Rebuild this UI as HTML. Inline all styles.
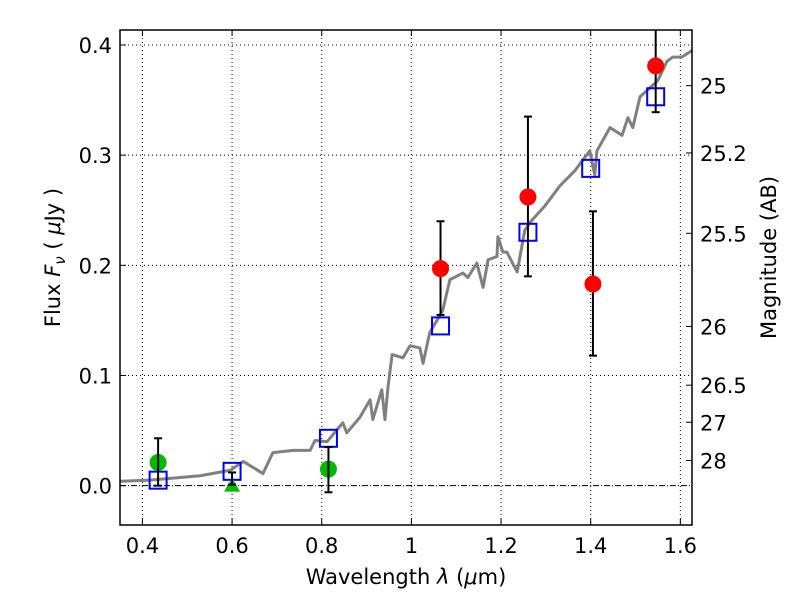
<!DOCTYPE html>
<html><head><meta charset="utf-8"><style>
body{margin:0;background:#fff}
svg text{font-family:"DejaVu Sans","Liberation Sans",sans-serif;fill:#000}
</style></head><body>
<svg id="chart" width="800" height="600"></svg>
<script>
const xTicks=[0.4,0.6,0.8,1.0,1.2,1.4,1.6];
const xTickLabels=["0.4","0.6","0.8","1","1.2","1.4","1.6"];
const yTicks=[0,0.1,0.2,0.3,0.4];
const yTickLabels=["0.0","0.1","0.2","0.3","0.4"];
const magTicks=[25,25.2,25.5,26,26.5,27,28];
const magTickLabels=["25","25.2","25.5","26","26.5","27","28"];
const specLam=[0.350,0.417,0.529,0.596,0.625,0.669,0.691,0.736,0.774,0.785,0.812,0.847,0.856,0.885,0.908,0.914,0.934,0.941,0.948,0.957,0.981,0.997,1.019,1.026,1.041,1.070,1.079,1.086,1.115,1.126,1.146,1.160,1.171,1.191,1.193,1.204,1.213,1.236,1.253,1.269,1.298,1.331,1.365,1.398,1.409,1.414,1.443,1.470,1.483,1.494,1.510,1.543,1.550,1.570,1.583,1.603,1.626];
const specFlux=[0.004,0.005,0.009,0.014,0.022,0.011,0.030,0.032,0.032,0.041,0.040,0.057,0.048,0.062,0.078,0.060,0.087,0.060,0.090,0.119,0.116,0.127,0.125,0.111,0.139,0.159,0.175,0.187,0.193,0.189,0.202,0.180,0.205,0.208,0.226,0.212,0.212,0.194,0.232,0.241,0.254,0.272,0.286,0.304,0.282,0.304,0.325,0.318,0.334,0.325,0.353,0.365,0.368,0.385,0.389,0.389,0.395];
const modelLam=[0.435,0.6,0.815,1.065,1.26,1.4,1.545];
const modelFlux=[0.005,0.013,0.043,0.145,0.230,0.288,0.353];
const greenLam=[0.435,0.815];
const greenFlux=[0.021,0.015];
const greenLo=[0.0,-0.006];
const greenHi=[0.043,0.035];
const limitLam=[0.6];
const limitFlux=[0.0];
const limitLo=[0.001];
const limitHi=[0.012];
const redLam=[1.065,1.26,1.405,1.545];
const redFlux=[0.197,0.262,0.183,0.381];
const redLo=[0.155,0.190,0.118,0.339];
const redHi=[0.240,0.335,0.249,0.430];

const L=120,R=692,T=30,B=525;
const xmin=0.35,xmax=1.626,ymin=-0.0357,ymax=0.4136;
const X=v=>L+(v-xmin)/(xmax-xmin)*(R-L);
const Y=v=>B-(v-ymin)/(ymax-ymin)*(B-T);
const svg=document.getElementById('chart');
const NS='http://www.w3.org/2000/svg';
function mk(tag,attrs,parent){const e=document.createElementNS(NS,tag);for(const k in attrs)e.setAttribute(k,attrs[k]);(parent||svg).appendChild(e);return e;}

const grid=mk('g',{});


xTicks.forEach(t=>{mk('line',{x1:X(t),x2:X(t),y1:T,y2:B,stroke:'#000','stroke-width':1,'stroke-dasharray':'1,3'},grid);});
yTicks.forEach(t=>{if(t!==0)mk('line',{x1:L,x2:R,y1:Y(t),y2:Y(t),stroke:'#000','stroke-width':1,'stroke-dasharray':'1,3'},grid);});
const zl=mk('line',{x1:L,x2:R,y1:Y(0),y2:Y(0),stroke:'#000','stroke-width':1,'stroke-dasharray':'6,2,1,2'});



const sp=mk('polyline',{points:specLam.map((l,i)=>X(l)+','+Y(specFlux[i])).join(' '),fill:'none',stroke:'#808080','stroke-width':3,'stroke-linejoin':'round'});



function errbar(x,lo,hi,name){
  const g=mk('g',{stroke:'#000','stroke-width':2});
  
  
  mk('line',{x1:X(x),x2:X(x),y1:Y(lo),y2:Y(Math.min(hi,ymax))},g);
  mk('line',{x1:X(x)-4,x2:X(x)+4,y1:Y(lo),y2:Y(lo)},g);
  if(hi<ymax)mk('line',{x1:X(x)-4,x2:X(x)+4,y1:Y(hi),y2:Y(hi)},g);
}
modelLam.forEach((l,i)=>{
  const r=mk('rect',{x:X(l)-8.5,y:Y(modelFlux[i])-8.5,width:17,height:17,fill:'none',stroke:'#0000ff','stroke-width':2});
  
  
});
greenLam.forEach((l,i)=>{
  const c=mk('circle',{cx:X(l),cy:Y(greenFlux[i]),r:8.5,fill:'#00bb00'});
  
  
  errbar(l,greenLo[i],greenHi[i],'optical-error-bar');
});
limitLam.forEach((l,i)=>{
  const x=X(l),y=Y(limitFlux[i]);
  const p=mk('polygon',{points:`${x},${y-8} ${x-8},${y+6} ${x+8},${y+6}`,fill:'#00bb00'});
  
  
  errbar(l,limitLo[i],limitHi[i],'upper-limit-error-bar');
});
redLam.forEach((l,i)=>{
  errbar(l,redLo[i],redHi[i],'nir-error-bar');
  const c=mk('circle',{cx:X(l),cy:Y(redFlux[i]),r:8.5,fill:'#ff0000'});
  
  
});

const fr=mk('rect',{x:L,y:T,width:R-L,height:B-T,fill:'none',stroke:'#000','stroke-width':1.5});



xTicks.forEach((t,i)=>{
  mk('line',{x1:X(t),x2:X(t),y1:B,y2:B-6,stroke:'#000'});mk('line',{x1:X(t),x2:X(t),y1:T,y2:T+6,stroke:'#000'});
  const tx=mk('text',{x:X(t),y:B+28,'text-anchor':'middle','font-size':21});tx.textContent=xTickLabels[i];
  
  
});
yTicks.forEach((t,i)=>{
  mk('line',{x1:L,x2:L+6,y1:Y(t),y2:Y(t),stroke:'#000'});
  const tx=mk('text',{x:L-8,y:Y(t)+8,'text-anchor':'end','font-size':21});tx.textContent=yTickLabels[i];
  
  
});
magTicks.forEach((m,i)=>{
  const f=Math.pow(10,(23.9-m)/2.5);
  mk('line',{x1:R-6,x2:R,y1:Y(f),y2:Y(f),stroke:'#000'});
  const tx=mk('text',{x:R+8,y:Y(f)+8,'text-anchor':'start','font-size':21});tx.textContent=magTickLabels[i];
  
  
});
let t=mk('text',{x:(L+R)/2,y:584,'text-anchor':'middle','font-size':21});
t.innerHTML='Wavelength  <tspan font-style="italic">λ</tspan> (<tspan font-style="italic">μ</tspan>m)';


t=mk('text',{x:0,y:0,'text-anchor':'middle','font-size':21,transform:`translate(60,${(T+B)/2-20}) rotate(-90)`});
t.innerHTML='Flux  <tspan font-style="italic">F</tspan><tspan font-style="italic" font-size="15" dy="5">ν</tspan><tspan dy="-5">  ( </tspan><tspan font-style="italic">μ</tspan>Jy )';


t=mk('text',{x:0,y:0,'text-anchor':'middle','font-size':21,transform:`translate(776,${(T+B)/2-20}) rotate(-90)`});
t.textContent='Magnitude (AB)';


</script>
</body></html>
